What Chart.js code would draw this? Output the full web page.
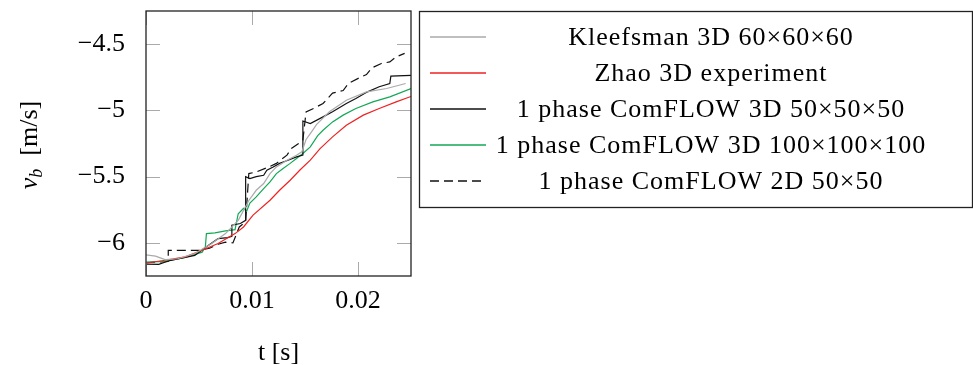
<!DOCTYPE html>
<html>
<head>
<meta charset="utf-8">
<script src="https://cdn.jsdelivr.net/npm/chart.js@4.4.1/dist/chart.umd.min.js"></script>
<style>
  html, body { margin: 0; padding: 0; background: #fff; }
  canvas { display: block; }
</style>
</head>
<body>
<canvas id="vbChart" width="973" height="365"></canvas>
<script>
// tick labels
const xTicks = [0, 0.01, 0.02];
const yTicks = [-6, -5.5, -5, -4.5];

// series labels
const labels = [
  "Kleefsman 3D 60\u00d760\u00d760",
  "Zhao 3D experiment",
  "1 phase ComFLOW 3D 50\u00d750\u00d750",
  "1 phase ComFLOW 3D 100\u00d7100\u00d7100",
  "1 phase ComFLOW 2D 50\u00d750"
];
const colors = ["#aaaaaa", "#ee2222", "#111111", "#12a855", "#111111"];
const dashes = [[], [], [], [], [9, 5]];

// Kleefsman 3D 60x60x60
const kleefT = [0, 0.0009, 0.0018, 0.003, 0.0046, 0.0062, 0.0075, 0.0087, 0.0097, 0.0104, 0.0111, 0.0117, 0.0123, 0.0133, 0.0142, 0.0147, 0.0151, 0.0155, 0.0161, 0.0173, 0.0189, 0.0208, 0.0227, 0.0245];
const kleefV = [-6.09, -6.10, -6.126, -6.12, -6.08, -6.005, -5.93, -5.83, -5.68, -5.603, -5.552, -5.477, -5.427, -5.376, -5.338, -5.313, -5.22, -5.175, -5.105, -5.011, -4.923, -4.86, -4.835, -4.797];

// Zhao 3D experiment
const zhaoT = [0, 0.0018, 0.0037, 0.0053, 0.0068, 0.0084, 0.0092, 0.0101, 0.0117, 0.0126, 0.0136, 0.0145, 0.0155, 0.0164, 0.0176, 0.0189, 0.0205, 0.022, 0.0236, 0.025];
const zhaoV = [-6.152, -6.131, -6.106, -6.056, -6.005, -5.93, -5.88, -5.79, -5.678, -5.603, -5.527, -5.452, -5.376, -5.29, -5.20, -5.112, -5.036, -4.986, -4.936, -4.895];

// ComFLOW 3D 50x50x50
const cf50T = [0, 0.0012, 0.0021, 0.0046, 0.0059, 0.0068, 0.0077, 0.0081, 0.0081, 0.0089, 0.0094, 0.0094, 0.0098, 0.0104, 0.0111, 0.0114, 0.012, 0.0126, 0.0134, 0.0142, 0.0148, 0.0148, 0.0155, 0.0167, 0.0176, 0.0189, 0.0198, 0.0209, 0.022, 0.023, 0.0231, 0.025];
const cf50V = [-6.16, -6.162, -6.137, -6.094, -6.018, -5.968, -5.96, -5.95, -5.867, -5.854, -5.83, -5.50, -5.515, -5.50, -5.49, -5.452, -5.427, -5.40, -5.376, -5.351, -5.338, -5.08, -5.099, -5.049, -5.011, -4.948, -4.91, -4.86, -4.822, -4.797, -4.742, -4.736];

// ComFLOW 3D 100x100x100
const cf100T = [0, 0.0018, 0.0037, 0.0053, 0.0056, 0.0057, 0.0065, 0.0075, 0.0084, 0.0087, 0.0092, 0.0095, 0.0098, 0.0104, 0.0111, 0.0117, 0.0123, 0.0129, 0.0136, 0.0142, 0.0148, 0.0155, 0.0162, 0.0167, 0.0176, 0.0186, 0.0198, 0.0214, 0.023, 0.025];
const cf100V = [-6.145, -6.14, -6.11, -6.07, -6.03, -5.93, -5.925, -5.91, -5.90, -5.78, -5.74, -5.76, -5.70, -5.653, -5.59, -5.54, -5.477, -5.44, -5.40, -5.363, -5.326, -5.276, -5.19, -5.15, -5.087, -5.036, -4.986, -4.936, -4.898, -4.835];

// ComFLOW 2D 50x50
const cf2dT = [0, 0.0021, 0.0021, 0.0051, 0.006, 0.0068, 0.0075, 0.0082, 0.0088, 0.0094, 0.0097, 0.0104, 0.0115, 0.0123, 0.0133, 0.0137, 0.0144, 0.0148, 0.0151, 0.0158, 0.0167, 0.0176, 0.0186, 0.0191, 0.0203, 0.0208, 0.0213, 0.0222, 0.023, 0.0236, 0.0244];
const cf2dV = [-6.15, -6.14, -6.056, -6.056, -6.04, -6.01, -5.995, -6.0, -5.88, -5.84, -5.477, -5.465, -5.43, -5.40, -5.338, -5.288, -5.25, -5.225, -5.011, -4.986, -4.948, -4.87, -4.85, -4.797, -4.747, -4.73, -4.68, -4.646, -4.634, -4.596, -4.57];

const seriesT = [kleefT, zhaoT, cf50T, cf100T, cf2dT];
const seriesV = [kleefV, zhaoV, cf50V, cf100V, cf2dV];

const pts = (ts, vs) => ts.map((t, i) => ({ x: t, y: vs[i] }));
const serif = "'Liberation Serif', 'Times New Roman', serif";

// frame, inward ticks, axis titles, legend box
const decor = {
  id: "decor",
  afterDraw(chart) {
    const c = chart.ctx;
    const a = chart.chartArea;
    const xs = chart.scales.x, ys = chart.scales.y;
    c.save();
    c.strokeStyle = "#aaaaaa";
    c.lineWidth = 1;
    const tl = 14;
    c.beginPath();
    xTicks.forEach(v => {
      const px = Math.round(xs.getPixelForValue(v)) + 0.5;
      c.moveTo(px, a.bottom); c.lineTo(px, a.bottom - tl);
      c.moveTo(px, a.top); c.lineTo(px, a.top + tl);
    });
    yTicks.forEach(v => {
      const py = Math.round(ys.getPixelForValue(v)) + 0.5;
      c.moveTo(a.left, py); c.lineTo(a.left + tl, py);
      c.moveTo(a.right, py); c.lineTo(a.right - tl, py);
    });
    c.stroke();

    c.strokeStyle = "#222";
    c.lineWidth = 1.3;
    c.strokeRect(a.left, a.top, a.right - a.left, a.bottom - a.top);

    // x title
    c.fillStyle = "#000";
    c.font = "26px " + serif;
    c.textAlign = "center";
    c.textBaseline = "middle";
    c.fillText("t [s]", (a.left + a.right) / 2, 353);

    // y title with subscript
    c.save();
    c.translate(28, 145);
    c.rotate(-Math.PI / 2);
    const fMain = "italic 26px " + serif;
    const fSub = "italic 18px " + serif;
    const fUnit = "26px " + serif;
    c.font = fMain; const wv = c.measureText("v").width;
    c.font = fSub; const wb = c.measureText("b").width;
    c.font = fUnit; const wu = c.measureText("  [m/s]").width;
    const x0 = -(wv + wb + wu) / 2;
    c.textAlign = "left";
    c.textBaseline = "alphabetic";
    c.font = fMain; c.fillText("v", x0, 9);
    c.font = fSub; c.fillText("b", x0 + wv, 14);
    c.font = fUnit; c.fillText("  [m/s]", x0 + wv + wb, 9);
    c.restore();

    // legend
    const lx = 419.5, ly = 11.5, lw = 553, lh = 196;
    c.strokeStyle = "#222";
    c.lineWidth = 1.3;
    c.strokeRect(lx, ly, lw, lh);
    labels.forEach((lab, i) => {
      const ry = Math.round(ly + 25 + i * 36.2);
      c.save();
      c.strokeStyle = colors[i];
      c.lineWidth = 1.4;
      c.setLineDash(dashes[i]);
      c.beginPath();
      c.moveTo(430, ry); c.lineTo(486, ry);
      c.stroke();
      c.restore();
      c.save();
      c.font = "26px " + serif;
      c.textAlign = "center";
      c.textBaseline = "middle";
      if ("letterSpacing" in c) c.letterSpacing = "1px";
      c.fillStyle = "#000";
      c.fillText(lab, 711, ry + 1);
      c.restore();
    });
    c.restore();
  }
};

const ctxVb = document.getElementById("vbChart").getContext("2d");
new Chart(ctxVb, {
  type: "line",
  data: {
    datasets: labels.map((lab, i) => ({
      label: lab,
      data: pts(seriesT[i], seriesV[i]),
      borderColor: colors[i],
      borderWidth: 1.2,
      borderDash: dashes[i],
      pointRadius: 0,
      tension: 0,
      fill: false
    }))
  },
  options: {
    responsive: false,
    animation: false,
    layout: { padding: { top: 11, right: 562, left: 0, bottom: 0 } },
    plugins: {
      legend: { display: false },
      tooltip: { enabled: false }
    },
    scales: {
      x: {
        type: "linear",
        min: 0,
        max: 0.025,
        afterFit: s => { s.height = 89; s.paddingLeft = 0; s.paddingRight = 0; },
        afterBuildTicks: s => { s.ticks = xTicks.map(v => ({ value: v })); },
        grid: { display: false },
        border: { display: false },
        ticks: {
          color: "#000",
          padding: 2,
          maxRotation: 0,
          font: { family: serif, size: 26 },
          callback: v => (v === 0 ? "0" : v.toFixed(2))
        }
      },
      y: {
        type: "linear",
        min: -6.25,
        max: -4.25,
        afterFit: s => { s.width = 146; s.paddingTop = 0; s.paddingBottom = 0; },
        afterBuildTicks: s => { s.ticks = yTicks.map(v => ({ value: v })); },
        grid: { display: false },
        border: { display: false },
        ticks: {
          color: "#000",
          padding: 13,
          font: { family: serif, size: 26 },
          callback: v => String(v).replace("-", "\u2212")
        }
      }
    }
  },
  plugins: [decor]
});
</script>
</body>
</html>
